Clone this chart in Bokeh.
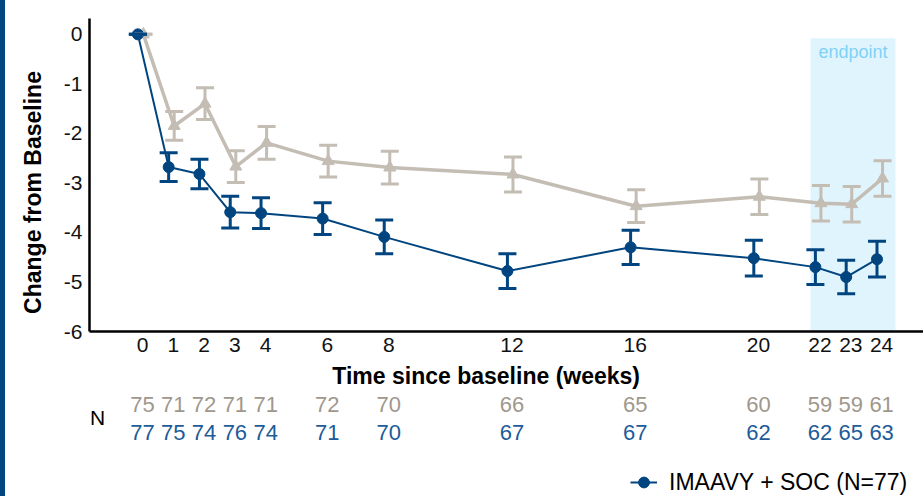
from bokeh.plotting import figure
from bokeh.layouts import row, column
from bokeh.models import (FixedTicker, ColumnDataSource, Whisker, TeeHead, Legend,
                          LegendItem, Range1d, Div)
from bokeh.embed import file_html
from bokeh.resources import INLINE
from bokeh.core.properties import value
import math

# ---------------- data ----------------
weeks = [0, 1, 2, 3, 4, 6, 8, 12, 16, 20, 22, 23, 24]
tick_labels = [str(w) for w in weeks]
y_ticks = [0, -1, -2, -3, -4, -5, -6]
imaavy_mean = [0, -2.68, -2.82, -3.59, -3.61, -3.72, -4.09, -4.78, -4.30, -4.52, -4.70, -4.90, -4.54]
imaavy_se = [0, 0.29, 0.30, 0.32, 0.31, 0.32, 0.34, 0.35, 0.345, 0.36, 0.35, 0.34, 0.36]
placebo_mean = [0, -1.85, -1.40, -2.67, -2.19, -2.56, -2.69, -2.83, -3.47, -3.28, -3.41, -3.43, -2.91]
placebo_se = [0, 0.29, 0.32, 0.32, 0.33, 0.32, 0.33, 0.355, 0.33, 0.36, 0.36, 0.36, 0.36]
n_placebo = [75, 71, 72, 71, 71, 72, 70, 66, 65, 60, 59, 59, 61]
n_imaavy = [77, 75, 74, 76, 74, 71, 70, 67, 67, 62, 62, 65, 63]
legend_label = "IMAAVY + SOC (N=77)"
x_title = "Time since baseline (weeks)"
y_title = "Change from Baseline"
endpoint_range = [21.69, 24.45]

# ---------------- style ----------------
BLUE = "#00457F"
GRAY = "#C4BDB4"
N_GRAY = "#A0978C"
N_BLUE = "#1D5B99"
BAND = "#E0F4FD"
BAND_TXT = "#7FD2F7"
FONT = "Liberation Sans"

blue_off = -0.15
gray_off = 0.03

STRIPE_W = 5
YLAB_W = 45
INNER_LEFT = 89 - STRIPE_W - YLAB_W
PLOT_W = 923 - STRIPE_W - YLAB_W
TOP_H = 360
BOT_H = 496 - TOP_H

x_range = Range1d(-1.72, 25.36)

# ---------------- main plot ----------------
p = figure(width=PLOT_W, height=TOP_H, output_backend="svg", toolbar_location=None,
           x_range=x_range, y_range=Range1d(-6, 0.32),
           min_border_left=INNER_LEFT, min_border_right=0, min_border_top=18,
           min_border_bottom=TOP_H - 331)
p.outline_line_color = None
p.grid.grid_line_color = None

# endpoint band
p.quad(left=[endpoint_range[0]], right=[endpoint_range[1]], top=[-0.08], bottom=[-6],
       fill_color=BAND, line_color=None)
p.text(x=[(endpoint_range[0] + endpoint_range[1]) / 2], y=[-0.36], text=["endpoint"],
       text_align="center", text_baseline="middle", text_font=value(FONT),
       text_font_size="18px", text_color=BAND_TXT)

src_b = ColumnDataSource(dict(
    x=[w + blue_off for w in weeks], y=imaavy_mean,
    lo=[m - s for m, s in zip(imaavy_mean, imaavy_se)],
    hi=[m + s for m, s in zip(imaavy_mean, imaavy_se)]))
src_g = ColumnDataSource(dict(
    x=[w + gray_off for w in weeks], y=placebo_mean,
    lo=[m - s for m, s in zip(placebo_mean, placebo_se)],
    hi=[m + s for m, s in zip(placebo_mean, placebo_se)]))

# gray series
p.add_layout(Whisker(source=src_g, base="x", lower="lo", upper="hi", line_color=GRAY,
                     line_width=3, level="glyph",
                     upper_head=TeeHead(size=18, line_color=GRAY, line_width=3),
                     lower_head=TeeHead(size=18, line_color=GRAY, line_width=3)))
p.line("x", "y", source=src_g, line_color=GRAY, line_width=3.5)
p.scatter("x", "y", source=src_g, marker="triangle", size=12, fill_color=GRAY,
          line_color=GRAY)

# blue series
p.add_layout(Whisker(source=src_b, base="x", lower="lo", upper="hi", line_color=BLUE,
                     line_width=3, level="glyph",
                     upper_head=TeeHead(size=18, line_color=BLUE, line_width=3),
                     lower_head=TeeHead(size=18, line_color=BLUE, line_width=3)))
p.line("x", "y", source=src_b, line_color=BLUE, line_width=2)
p.scatter("x", "y", source=src_b, marker="circle", size=11, fill_color=BLUE,
          line_color=BLUE)

for ax in (p.xaxis[0], p.yaxis[0]):
    ax.axis_line_color = "black"
    ax.axis_line_width = 2.5
    ax.major_tick_line_color = None
    ax.minor_tick_line_color = None
    ax.major_tick_out = 0
    ax.major_tick_in = 0
    ax.major_label_text_font = FONT
    ax.major_label_text_font_size = "21px"
    ax.major_label_text_color = "#111111"

p.xaxis.ticker = FixedTicker(ticks=weeks)
p.xaxis.major_label_overrides = {w: t for w, t in zip(weeks, tick_labels)}
p.xaxis.major_label_standoff = 6
p.yaxis.ticker = FixedTicker(ticks=y_ticks)
p.yaxis.major_label_overrides = {t: str(t) for t in y_ticks}
p.yaxis.major_label_standoff = 7

# ---------------- lower panel: x title, N table, legend ----------------
p2 = figure(width=PLOT_W, height=BOT_H, output_backend="svg", toolbar_location=None,
            x_range=x_range, y_range=Range1d(496, TOP_H),
            x_axis_location=None, y_axis_location=None,
            min_border_left=INNER_LEFT, min_border_right=0, min_border_top=0,
            min_border_bottom=0)
p2.outline_line_color = None
p2.grid.grid_line_color = None

p2.text(x=[11.16], y=[375], text=[x_title], text_align="center", text_baseline="middle",
        text_font=value(FONT), text_font_size="23px", text_font_style="bold",
        text_color="black")
p2.text(x=[-1.46], y=[417], text=["N"], text_align="center", text_baseline="middle",
        text_font=value(FONT), text_font_size="21px", text_color="black")
p2.text(x=weeks, y=[404] * len(weeks), text=[str(n) for n in n_placebo],
        text_align="center", text_baseline="middle", text_font=value(FONT),
        text_font_size="22px", text_color=N_GRAY)
p2.text(x=weeks, y=[432] * len(weeks), text=[str(n) for n in n_imaavy],
        text_align="center", text_baseline="middle", text_font=value(FONT),
        text_font_size="22px", text_color=N_BLUE)

lb = p2.line("x", "y", source=src_b, line_color=BLUE, line_width=2)
cb = p2.scatter("x", "y", source=src_b, marker="circle", size=11, fill_color=BLUE,
                line_color=BLUE)
legend = Legend(items=[LegendItem(label=legend_label, renderers=[lb, cb])],
                location=(541, 0), orientation="horizontal",
                glyph_width=27, glyph_height=28, label_standoff=12, padding=0, margin=0,
                border_line_color=None, background_fill_alpha=0,
                label_text_font=FONT, label_text_font_size="23px",
                label_text_color="black")
p2.add_layout(legend)

# ---------------- y title panel ----------------
py = figure(width=YLAB_W, height=496, output_backend="svg", toolbar_location=None,
            x_range=Range1d(STRIPE_W, STRIPE_W + YLAB_W), y_range=Range1d(496, 0),
            x_axis_location=None, y_axis_location=None,
            min_border_left=0, min_border_right=0, min_border_top=0, min_border_bottom=0)
py.outline_line_color = None
py.grid.grid_line_color = None
py.text(x=[32], y=[192], text=[y_title], angle=math.pi / 2, text_align="center",
        text_baseline="middle", text_font=value(FONT), text_font_size="23px",
        text_font_style="bold", text_color="black")

stripe = Div(text="", width=STRIPE_W, height=496, margin=(0, 0, 0, 0),
             styles={"background-color": BLUE})

layout = row(stripe, py, column(p, p2, spacing=0), spacing=0)

open("out.html", "w").write(file_html(layout, INLINE))
